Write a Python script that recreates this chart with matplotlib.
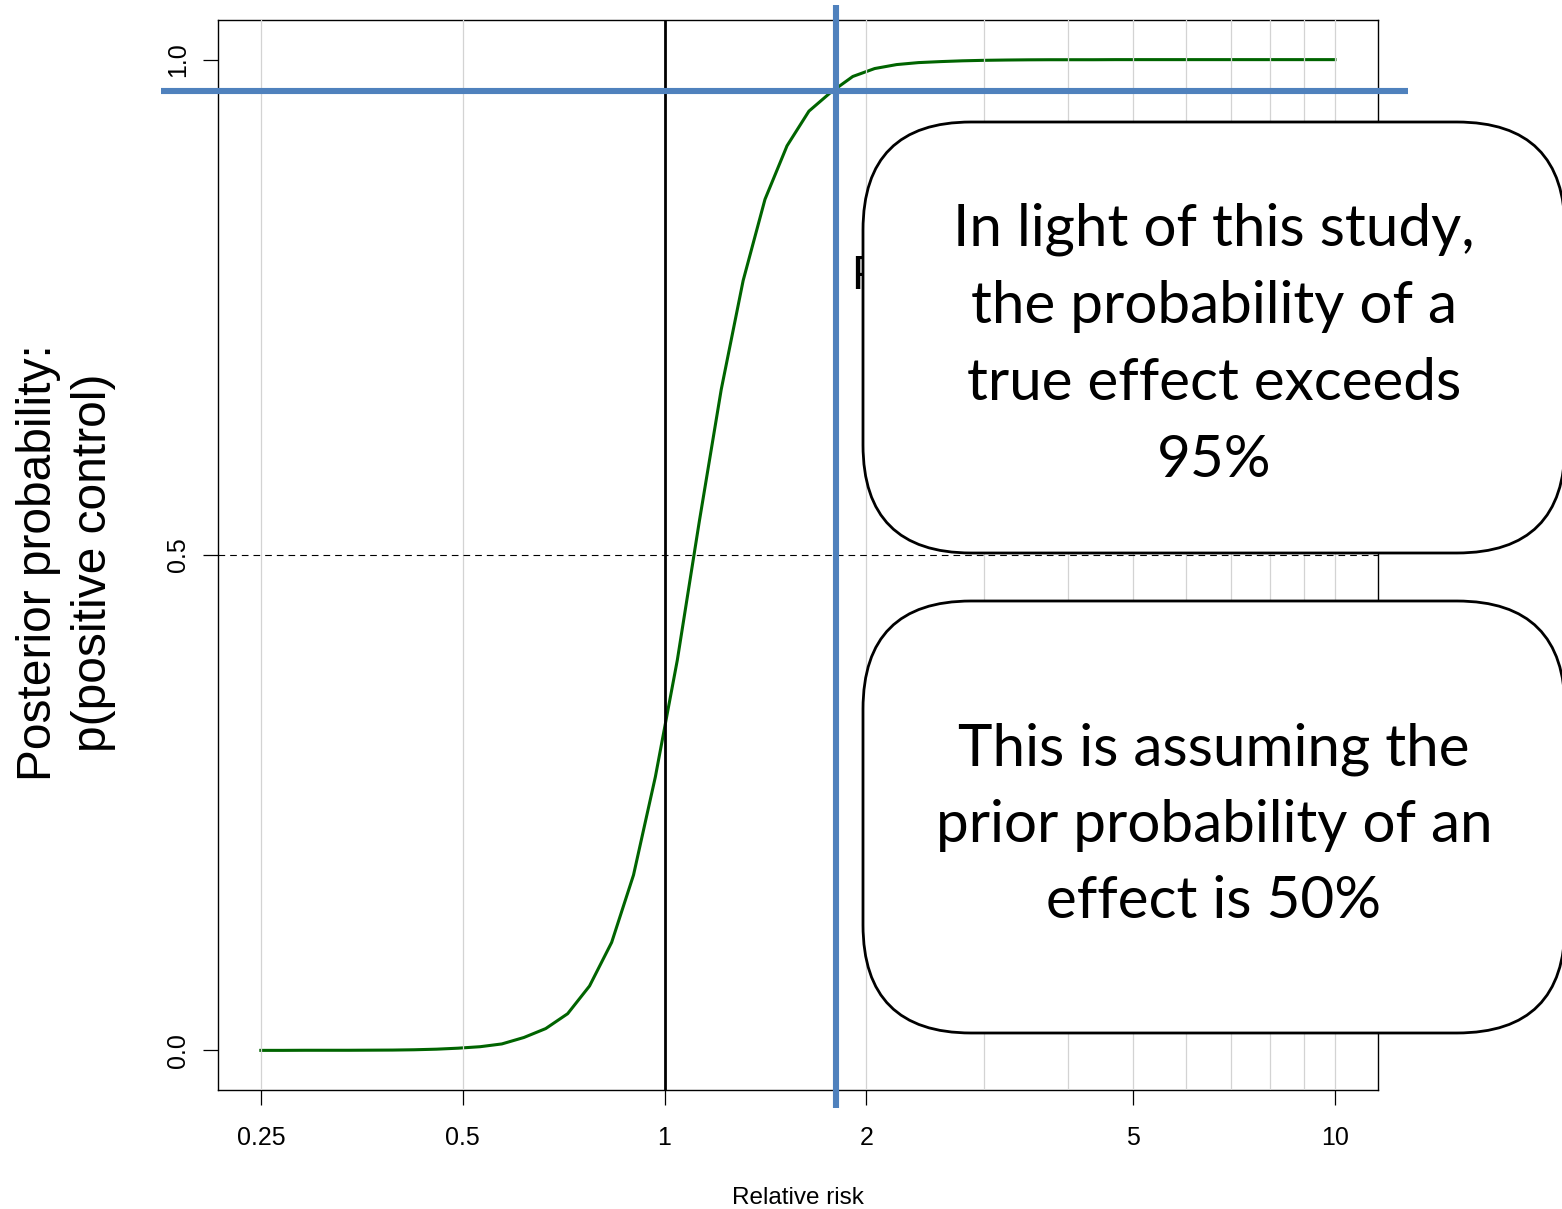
import numpy as np
import matplotlib.pyplot as plt
from matplotlib.patches import FancyBboxPatch
from matplotlib.transforms import IdentityTransform

plt.rcParams['font.family'] = ['Liberation Sans', 'DejaVu Sans']

# relative risk grid and posterior probability of a positive control
rr = [0.250, 0.270, 0.291, 0.313, 0.338, 0.364, 0.393, 0.423, 0.457, 0.492,
      0.531, 0.572, 0.617, 0.665, 0.717, 0.773, 0.834, 0.899, 0.969, 1.045,
      1.127, 1.215, 1.310, 1.412, 1.523, 1.642, 1.770, 1.909, 2.058, 2.219,
      2.392, 2.579, 2.781, 2.998, 3.233, 3.486, 3.758, 4.052, 4.369, 4.710,
      5.079, 5.476, 5.904, 6.365, 6.863, 7.400, 7.978, 8.602, 9.275, 10.000]
p_pos = [0.0000, 0.0000, 0.0001, 0.0001, 0.0001, 0.0002, 0.0003, 0.0006, 0.0012, 0.0022,
         0.0037, 0.0065, 0.013, 0.022, 0.037, 0.065, 0.109, 0.177, 0.276, 0.394,
         0.534, 0.667, 0.777, 0.859, 0.913, 0.948, 0.967, 0.983, 0.991, 0.995,
         0.997, 0.998, 0.9988, 0.9993, 0.9996, 0.9998, 0.9999, 0.9999, 0.9999, 1.0,
         1.0, 1.0, 1.0, 1.0, 1.0, 1.0, 1.0, 1.0, 1.0, 1.0]

x_ticks = [0.25, 0.5, 1, 2, 5, 10]
x_ticklabels = ['0.25', '0.5', '1', '2', '5', '10']
y_ticks = [0.0, 0.5, 1.0]
y_ticklabels = ['0.0', '0.5', '1.0']
grid_rr = [0.25, 0.5, 1, 2, 3, 4, 5, 6, 7, 8, 9, 10]

# point where the curve passes 95%+
rr_mark = 1.8
p_mark = 0.968

box_texts = [
    ['In light of this study,', 'the probability of a', 'true effect exceeds', '95%'],
    ['This is assuming the', 'prior probability of an', 'effect is 50%'],
]

fig = plt.figure(figsize=(15.62, 12.09), dpi=100)
ax = fig.add_axes([0.13956, 0.09843, 0.74264, 0.88503])

ax.set_xscale('log')
ax.set_xlim(0.2158, 11.59)
ax.set_ylim(-0.04, 1.04)

ax.plot(rr, p_pos, color='#006400', lw=2.2, zorder=2)
for g in grid_rr:
    ax.axvline(g, color='#D3D3D3', lw=0.9, zorder=3)
ax.axhline(0.5, color='black', lw=0.8, ls=(0, (6, 4.5)), zorder=3)
ax.axvline(1, color='black', lw=2, zorder=4)

ax.text(1.9, 0.768, 'P', fontsize=34.5, ha='left', va='baseline', zorder=3)

# crosshair marking the threshold crossing, running past the frame
ax.plot([0.1774, 12.85], [p_mark, p_mark], color='#4F81BD', lw=4.4,
        clip_on=False, zorder=6, solid_capstyle='butt')
ax.plot([rr_mark, rr_mark], [-0.0586, 1.0556], color='#4F81BD', lw=4.4,
        clip_on=False, zorder=6, solid_capstyle='butt')

ax.set_xticks(x_ticks)
ax.set_xticklabels(x_ticklabels)
ax.minorticks_off()
ax.set_yticks(y_ticks)
ax.set_yticklabels(y_ticklabels, rotation=90, va='center')
ax.tick_params(length=11, width=0.9, labelsize=18, color='black')
ax.tick_params(axis='x', pad=15)
ax.tick_params(axis='y', pad=9)
for s in ax.spines.values():
    s.set_linewidth(1.0)

ax.set_xlabel('Relative risk', fontsize=17.5, va='top')
ax.xaxis.set_label_coords(0.5, -0.091)
ax.set_ylabel('Posterior probability:\np(positive control)', fontsize=34.5,
              va='center', ha='center', multialignment='center', linespacing=1.3)
ax.yaxis.set_label_coords(-0.131, 0.4925)

# callout boxes (pixel coordinates, origin bottom-left)
H = 1209
boxes = [(863, 122, 553), (863, 601, 1033)]
baselines = [[246, 323, 400, 477], [766, 842, 918]]
for (x0, top, bot), lines, bls in zip(boxes, box_texts, baselines):
    patch = FancyBboxPatch((x0, H - bot), 702, bot - top,
                           boxstyle='round,pad=0,rounding_size=108',
                           transform=IdentityTransform(), facecolor='white',
                           edgecolor='black', lw=2.0, zorder=10)
    fig.add_artist(patch)
    for line, b in zip(lines, bls):
        fig.text(x0 + 351, H - b, line, transform=IdentityTransform(),
                 ha='center', va='baseline', fontsize=42,
                 family=['Lato', 'DejaVu Sans'], zorder=11)

fig.savefig('out.png', dpi=100)
